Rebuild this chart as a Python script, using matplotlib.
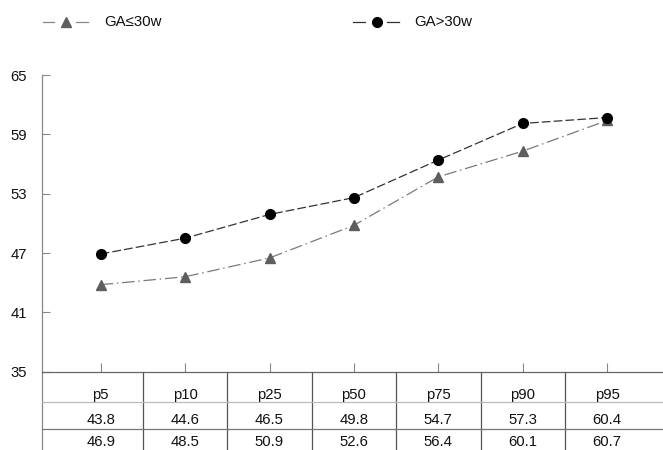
import matplotlib
matplotlib.use("Agg")
import matplotlib.pyplot as plt
from matplotlib.lines import Line2D
from matplotlib.transforms import blended_transform_factory
import numpy as np

plt.rcParams['font.family'] = ['Liberation Sans', 'DejaVu Sans']

categories = ["p5", "p10", "p25", "p50", "p75", "p90", "p95"]
ga_le30 = [43.8, 44.6, 46.5, 49.8, 54.7, 57.3, 60.4]
ga_gt30 = [46.9, 48.5, 50.9, 52.6, 56.4, 60.1, 60.7]
label_le30 = "GA≤30w"
label_gt30 = "GA>30w"
yticks = [35, 41, 47, 53, 59, 65]

W, H = 663, 450
fig = plt.figure(figsize=(W / 100, H / 100), dpi=100)
ax_left, ax_bottom_px, ax_top_px = 42, 371.7, 75
ax = fig.add_axes([ax_left / W, 1 - ax_bottom_px / H, (W - ax_left) / W,
                   (ax_bottom_px - ax_top_px) / H])

x = np.arange(len(categories))
tri_color = "#5e5e5e"
ax.plot(x, ga_le30, color="#7a7a7a", lw=0.9, linestyle=(0, (10, 3, 1.2, 3)),
        marker="^", markersize=7.5, markerfacecolor=tri_color,
        markeredgecolor=tri_color, zorder=3)
ax.plot(x, ga_gt30, color="#333333", lw=0.9, linestyle=(0, (7, 2.5)),
        marker="o", markersize=7, markerfacecolor="black",
        markeredgecolor="black", zorder=4)

px0, step = 100.7, 84.4
ax.set_xlim((ax_left - px0) / step, (W - px0) / step)
ax.set_ylim(35, 65)
ax.set_yticks(yticks)
ax.set_xticks(x)
ax.set_xticklabels([])
ax.tick_params(axis="y", direction="in", length=5.5, width=0.8, color="#888888",
               labelsize=10.7, pad=10.8, labelcolor="#111111")
ax.tick_params(axis="x", direction="in", length=6.5, width=0.8, color="#888888")
for s in ["top", "right"]:
    ax.spines[s].set_visible(False)
ax.spines["left"].set_color("#888888")
ax.spines["left"].set_linewidth(0.9)
ax.spines["bottom"].set_color("#666666")
ax.spines["bottom"].set_linewidth(0.9)

# table below axis
tr = blended_transform_factory(ax.transData, fig.transFigure)
ybot = 1 - ax_bottom_px / H
xl, xr = ax.get_xlim()
ax.plot([xl, xl], [0, ybot], transform=tr, color="#888888", lw=0.9, clip_on=False)
for i in range(len(categories) - 1):
    ax.plot([i + 0.5, i + 0.5], [0, ybot], transform=tr, color="#555555",
            lw=0.9, clip_on=False)
ax.plot([xl, xr], [1 - 402 / H] * 2, transform=tr, color="#bbbbbb", lw=0.9, clip_on=False)
ax.plot([xl, xr], [1 - 429 / H] * 2, transform=tr, color="#777777", lw=0.9, clip_on=False)

rows = [(categories, 398.5), ([f"{v:.1f}" for v in ga_le30], 424.5),
        ([f"{v:.1f}" for v in ga_gt30], 446.5)]
for labels, base in rows:
    for i, t in enumerate(labels):
        ax.text(i, 1 - base / H, t, transform=tr, ha="center", va="baseline",
                fontsize=10.7, color="#111111", clip_on=False)

# legend (drawn in figure pixel coordinates)
def fx(px):
    return px / W

def fy(py):
    return 1 - py / H

ly = 21.7
for (a, b, m, mx, txt_x, col, mcol, ms, lab) in [
        (42.7, 88, "^", 66, 104, "#888888", tri_color, 7.5, label_le30),
        (353, 399, "o", 377, 414, "#333333", "black", 7, label_gt30)]:
    fig.add_artist(Line2D([fx(a), fx(mx - 12)], [fy(ly)] * 2, color=col, lw=0.9))
    fig.add_artist(Line2D([fx(mx + 10), fx(b)], [fy(ly)] * 2, color=col, lw=0.9))
    fig.add_artist(Line2D([fx(mx)], [fy(ly)], marker=m, markersize=ms,
                          markerfacecolor=mcol, markeredgecolor=mcol, lw=0))
    fig.text(fx(txt_x), fy(ly), lab, ha="left", va="center", fontsize=10.8,
             color="#111111")

fig.savefig("out.png", dpi=100)
